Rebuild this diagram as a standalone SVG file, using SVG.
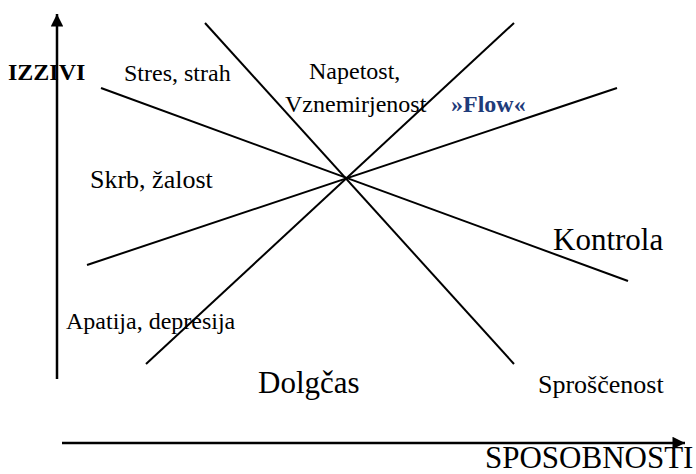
<svg xmlns="http://www.w3.org/2000/svg" width="696" height="474" viewBox="0 0 696 474">
  <style>
    .axis { stroke: #000; stroke-width: 2.5; fill: none; }
    .zone { stroke: #000; stroke-width: 2; fill: none; }
    .lbl { font-family: "Liberation Serif", "Times New Roman", serif; font-size: 24px; fill: #000; }
    .mid { font-size: 26px; }
    .big { font-size: 31px; }
    .bold { font-weight: bold; }
    .flow { fill: #1F3C7A; }
  </style>
  <defs>
    <marker id="arrow" viewBox="0 0 10 10" refX="10" refY="5" markerWidth="6" markerHeight="5" markerUnits="strokeWidth" orient="auto">
      <path d="M0,0 L10,5 L0,10 Z" fill="#000"/>
    </marker>
  </defs>

  <rect width="696" height="474" fill="#fff"/>

  <!-- axes -->
  <g id="axes">
    <line class="axis" x1="57" y1="379" x2="57" y2="14" marker-end="url(#arrow)"/>
    <line class="axis" x1="62" y1="443" x2="685" y2="443" marker-end="url(#arrow)"/>
  </g>

  <!-- boundary lines crossing in the centre -->
  <g id="lines">
    <line class="zone" x1="205" y1="23" x2="514" y2="364"/>
    <line class="zone" x1="146" y1="364" x2="514" y2="23"/>
    <line class="zone" x1="101" y1="88" x2="628" y2="281"/>
    <line class="zone" x1="87" y1="265" x2="617" y2="88"/>
  </g>

  <!-- labels -->
  <g id="labels">
    <text id="izzivi" class="lbl bold" x="8" y="80">IZZIVI</text>
    <text id="stres" class="lbl" x="124" y="81">Stres, strah</text>
    <text id="napetost" class="lbl" x="309" y="79">Napetost,</text>
    <text id="vznemirjenost" class="lbl" x="285" y="112">Vznemirjenost</text>
    <text id="flow" class="lbl bold flow" x="451" y="112">»Flow«</text>
    <text id="skrb" class="lbl mid" x="90" y="188">Skrb, žalost</text>
    <text id="kontrola" class="lbl big" x="553" y="250">Kontrola</text>
    <text id="apatija" class="lbl" x="66" y="329">Apatija, depresija</text>
    <text id="dolgcas" class="lbl big" x="258" y="393">Dolgčas</text>
    <text id="sproscenost" class="lbl mid" x="538" y="393">Sproščenost</text>
    <text id="sposobnosti" class="lbl big" x="485" y="468">SPOSOBNOSTI</text>
  </g>
</svg>
